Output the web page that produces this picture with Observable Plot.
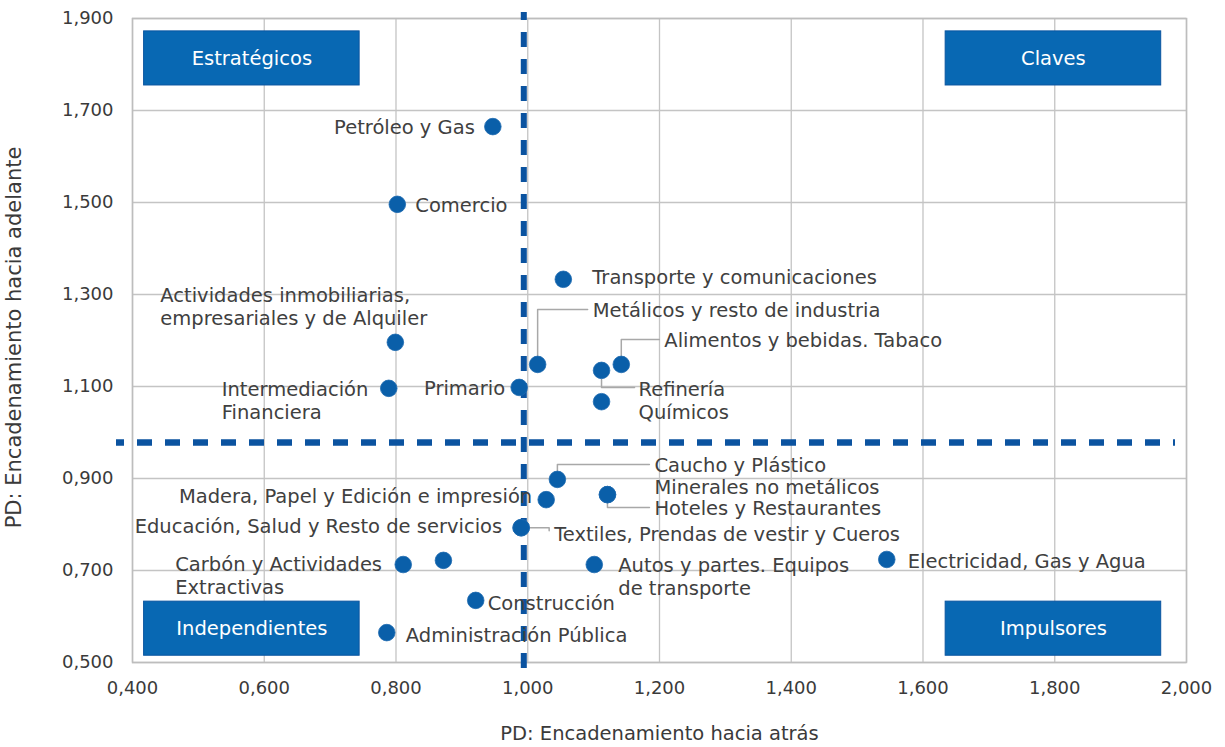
<!DOCTYPE html>
<html>
<head>
<meta charset="utf-8">
<script src="https://cdn.jsdelivr.net/npm/d3@7"></script>
<script src="https://cdn.jsdelivr.net/npm/@observablehq/plot@0.6"></script>
<style>
  html, body { margin: 0; padding: 0; background: #ffffff; }
  #chart { width: 1225px; height: 747px; }
</style>
</head>
<body>
<div id="chart"></div>
<script>
// ---------- data ----------
const sectors = [
  "Petróleo y Gas", "Comercio", "Transporte y comunicaciones",
  "Actividades inmobiliarias, empresariales y de Alquiler",
  "Metálicos y resto de industria", "Alimentos y bebidas. Tabaco",
  "Refinería", "Químicos", "Intermediación Financiera", "Primario",
  "Caucho y Plástico", "Madera, Papel y Edición e impresión",
  "Minerales no metálicos", "Hoteles y Restaurantes",
  "Educación, Salud y Resto de servicios", "Textiles, Prendas de vestir y Cueros",
  "Carbón y Actividades Extractivas", "Otro sector",
  "Autos y partes. Equipos de transporte", "Electricidad, Gas y Agua",
  "Construcción", "Administración Pública"
];
const backward = [0.947, 0.802, 1.054, 0.799, 1.015, 1.142, 1.112, 1.112, 0.789, 0.987,
                  1.045, 1.028, 1.121, 1.121, 0.990, 0.990, 0.811, 0.872, 1.101, 1.545,
                  0.921, 0.786];
const forward  = [1.665, 1.496, 1.333, 1.196, 1.148, 1.148, 1.135, 1.067, 1.096, 1.098,
                  0.898, 0.854, 0.865, 0.865, 0.793, 0.793, 0.713, 0.722, 0.713, 0.724,
                  0.635, 0.565];
const refBackward = [0.994];   // vertical threshold
const refForward = [0.978];    // horizontal threshold
const quadrantNames = ["Estratégicos", "Claves", "Independientes", "Impulsores"];
const xTicks = [0.4, 0.6, 0.8, 1.0, 1.2, 1.4, 1.6, 1.8, 2.0];
const yTicks = [0.5, 0.7, 0.9, 1.1, 1.3, 1.5, 1.7, 1.9];
const xTitle = "PD: Encadenamiento hacia atrás";
const yTitle = "PD: Encadenamiento hacia adelante";

// ---------- layout (pixels) ----------
const W = 1225, H = 747;
const mL = 132, mR = 39, mT = 18, mB = 85;
const xDom = [0.4, 2.0], yDom = [0.5, 1.9];
const kx = (W - mL - mR) / (xDom[1] - xDom[0]);
const ky = (H - mT - mB) / (yDom[1] - yDom[0]);
const FONT = "'DejaVu Sans', 'Open Sans', sans-serif";
const BLUE = "#0a5fa9";
const BOX = "#0868b3";
const TXT = "#404040";
const FS = 19.5;

// label placement per sector: text lines, anchor, pixel offset from the dot, optional leader path
const labelLayout = {
  "Petróleo y Gas": {lines: ["Petróleo y Gas"], anchor: "end", dx: -18, dy: 0},
  "Comercio": {lines: ["Comercio"], anchor: "start", dx: 18, dy: 0},
  "Transporte y comunicaciones": {lines: ["Transporte y comunicaciones"], anchor: "start", dx: 29, dy: -3},
  "Actividades inmobiliarias, empresariales y de Alquiler": {lines: ["Actividades inmobiliarias,", "empresariales y de Alquiler"], anchor: "start", dx: -235, dy: -36},
  "Metálicos y resto de industria": {lines: ["Metálicos y resto de industria"], anchor: "start", dx: 55, dy: -55, leader: [[0, -9], [0, -55], [50, -55]]},
  "Alimentos y bebidas. Tabaco": {lines: ["Alimentos y bebidas. Tabaco"], anchor: "start", dx: 43, dy: -25, leader: [[0, -9], [0, -25], [38, -25]]},
  "Refinería": {lines: ["Refinería"], anchor: "start", dx: 37, dy: 18, leader: [[0, 9], [0, 17], [33, 17]]},
  "Químicos": {lines: ["Químicos"], anchor: "start", dx: 37, dy: 10},
  "Intermediación Financiera": {lines: ["Intermediación", "Financiera"], anchor: "start", dx: -167, dy: 12},
  "Primario": {lines: ["Primario"], anchor: "end", dx: -14, dy: 0},
  "Caucho y Plástico": {lines: ["Caucho y Plástico"], anchor: "start", dx: 97, dy: -15, leader: [[0, -9], [0, -15], [92, -15]]},
  "Madera, Papel y Edición e impresión": {lines: ["Madera, Papel y Edición e impresión"], anchor: "end", dx: -14, dy: -4},
  "Minerales no metálicos": {lines: ["Minerales no metálicos"], anchor: "start", dx: 47, dy: -8},
  "Hoteles y Restaurantes": {lines: ["Hoteles y Restaurantes"], anchor: "start", dx: 47, dy: 13, leader: [[0, 9], [0, 13], [42, 13]]},
  "Educación, Salud y Resto de servicios": {lines: ["Educación, Salud y Resto de servicios"], anchor: "end", dx: -19, dy: -2},
  "Textiles, Prendas de vestir y Cueros": {lines: ["Textiles, Prendas de vestir y Cueros"], anchor: "start", dx: 33, dy: 6, leader: [[9, 0], [28, 0], [28, 3]]},
  "Carbón y Actividades Extractivas": {lines: ["Carbón y Actividades", "Extractivas"], anchor: "start", dx: -228, dy: 11},
  "Autos y partes. Equipos de transporte": {lines: ["Autos y partes. Equipos", "de transporte"], anchor: "start", dx: 24, dy: 12},
  "Electricidad, Gas y Agua": {lines: ["Electricidad, Gas y Agua"], anchor: "start", dx: 21, dy: 1},
  "Construcción": {lines: ["Construcción"], anchor: "start", dx: 12, dy: 2},
  "Administración Pública": {lines: ["Administración Pública"], anchor: "start", dx: 19, dy: 2}
};

// ---------- derived tables ----------
const points = sectors.map((s, i) => ({sector: s, x: backward[i], y: forward[i]}));
const labels = points.filter(p => labelLayout[p.sector]).map(p => {
  const L = labelLayout[p.sector];
  return {sector: p.sector, anchor: L.anchor, text: L.lines.join("\n"),
          lx: p.x + L.dx / kx, ly: p.y - L.dy / ky, x: p.x, y: p.y, leader: L.leader};
});
const leaders = [];
labels.filter(l => l.leader).forEach(l => {
  l.leader.forEach(([px, py]) => leaders.push({id: l.sector, x: l.x + px / kx, y: l.y - py / ky}));
});
// quadrant boxes, placed as fractions of the domain
const fx = f => xDom[0] + f * (xDom[1] - xDom[0]);
const fy = f => yDom[0] + f * (yDom[1] - yDom[0]);
const boxSpec = [
  {left: true, top: true}, {left: false, top: true}, {left: true, top: false}, {left: false, top: false}
];
const quadrants = quadrantNames.map((name, i) => {
  const s = boxSpec[i];
  const x1 = s.left ? fx(0.011) : fx(0.7715), x2 = s.left ? fx(0.2155) : fx(0.976);
  const y1 = s.top ? fy(0.896) : fy(0.0105), y2 = s.top ? fy(0.980) : fy(0.0945);
  return {name, x1, x2, y1, y2, xm: (x1 + x2) / 2, ym: (y1 + y2) / 2};
});
const fmt = d => d.toFixed(3).replace(".", ",");

const textMark = (anchor) => Plot.text(labels.filter(l => l.anchor === anchor), {
  x: "lx", y: "ly", text: "text",
  textAnchor: anchor, lineAnchor: "middle", lineHeight: 1.18,
  fill: TXT, fontSize: FS
});

const chart = Plot.plot({
  width: W, height: H,
  marginLeft: mL, marginRight: mR, marginTop: mT, marginBottom: mB,
  style: {fontFamily: FONT, background: "#ffffff", overflow: "visible"},
  x: {domain: xDom},
  y: {domain: yDom},
  marks: [
    Plot.gridX(xTicks, {stroke: "#c4c4c4", strokeOpacity: 1, strokeWidth: 1.3}),
    Plot.gridY(yTicks, {stroke: "#c4c4c4", strokeOpacity: 1, strokeWidth: 1.3}),
    Plot.frame({stroke: "#bdbdbd", strokeWidth: 1.5}),
    Plot.axisX(xTicks, {tickFormat: fmt, tickSize: 0, tickPadding: 19, fontSize: 18, fill: "#3a3a3a", label: null}),
    Plot.axisY(yTicks, {tickFormat: fmt, tickSize: 0, tickPadding: 19, fontSize: 18, fill: "#3a3a3a", label: null}),
    Plot.text([xTitle], {frameAnchor: "bottom", dy: 77, fontSize: 19.5, fill: "#3a3a3a", text: d => d}),
    Plot.text([yTitle], {frameAnchor: "left", textAnchor: "middle", lineAnchor: "middle", dx: -118, dy: -3, rotate: -90, fontSize: 21, fill: "#3a3a3a", text: d => d}),
    Plot.rect(quadrants, {x1: "x1", x2: "x2", y1: "y1", y2: "y2", fill: BOX, stroke: "#0a55a0", strokeWidth: 1}),
    Plot.text(quadrants, {x: "xm", y: "ym", text: "name", fill: "#ffffff", fontSize: 19.5}),
    Plot.ruleY(refForward, {x1: xDom[0] - 16 / kx, x2: xDom[1] - 11 / kx, stroke: "#0b53a0", strokeWidth: 6.5, strokeDasharray: "15,13", strokeDashoffset: 7}),
    Plot.ruleX(refBackward, {y1: yDom[1] + 6 / ky, y2: yDom[0] - 11 / ky, stroke: "#0b53a0", strokeWidth: 6, strokeDasharray: "15,12", strokeDashoffset: 7}),
    Plot.line(leaders, {x: "x", y: "y", z: "id", stroke: "#a8a8a8", strokeWidth: 1.5}),
    Plot.dot(points, {x: "x", y: "y", r: 8.3, fill: BLUE, stroke: "#1d6ab0", strokeWidth: 0.8}),
    textMark("start"),
    textMark("end")
  ]
});
document.getElementById("chart").appendChild(chart);
</script>
</body>
</html>
